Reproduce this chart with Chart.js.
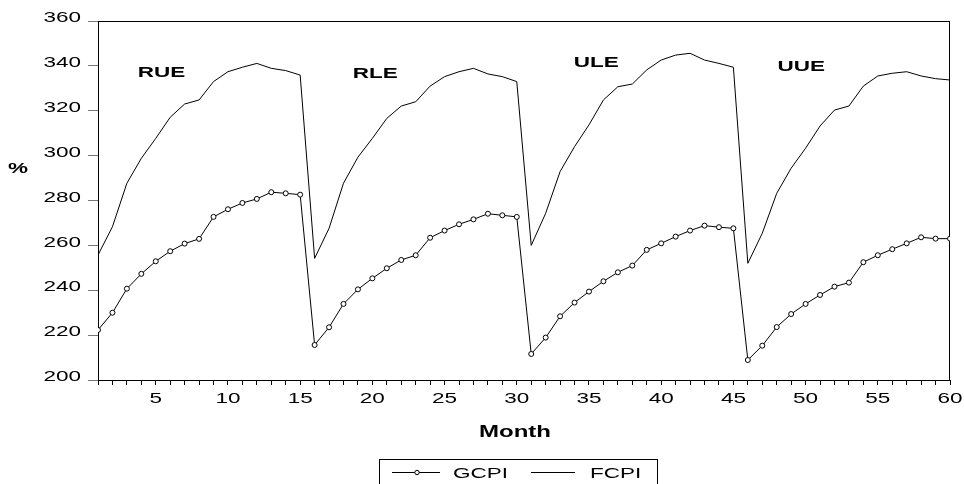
<!DOCTYPE html>
<html>
<head>
<meta charset="utf-8">
<script src="https://cdn.jsdelivr.net/npm/chart.js@4/dist/chart.umd.min.js"></script>
<style>
  html, body { margin: 0; padding: 0; background: #fff; }
  #wrap { position: relative; width: 964px; height: 484px; }
</style>
</head>
<body>
<div id="wrap"><canvas id="cpi_chart"></canvas></div>
<script>
(function () {
  'use strict';

  // months 1..60
  const months = [
    1, 2, 3, 4, 5, 6, 7, 8, 9, 10, 11, 12, 13, 14, 15,
    16, 17, 18, 19, 20, 21, 22, 23, 24, 25, 26, 27, 28, 29, 30,
    31, 32, 33, 34, 35, 36, 37, 38, 39, 40, 41, 42, 43, 44, 45,
    46, 47, 48, 49, 50, 51, 52, 53, 54, 55, 56, 57, 58, 59, 60,
  ];

  const gcpi = [
    222.3, 230.0, 240.7, 247.3, 252.9, 257.4, 260.8, 262.9, 272.7, 276.1, 278.9, 280.7, 283.7, 283.2, 282.6,
    215.6, 223.5, 233.9, 240.4, 245.3, 249.8, 253.5, 255.6, 263.4, 266.6, 269.4, 271.6, 274.1, 273.4, 272.7,
    211.6, 218.9, 228.4, 234.5, 239.4, 244.0, 248.0, 251.0, 258.0, 260.9, 263.9, 266.6, 268.8, 268.1, 267.6,
    208.9, 215.3, 223.6, 229.4, 233.9, 237.9, 241.6, 243.4, 252.5, 255.6, 258.3, 260.9, 263.6, 263.0, 263.0,
  ];

  const fcpi = [
    255.7, 268.3, 287.7, 298.8, 307.7, 317.1, 323.0, 324.8, 333.0, 337.4, 339.4, 341.1, 338.9, 337.9, 335.9,
    254.2, 267.6, 287.7, 299.3, 307.7, 316.6, 322.1, 324.0, 331.0, 335.2, 337.4, 338.9, 336.4, 335.2, 333.0,
    260.0, 274.3, 292.9, 304.0, 313.7, 324.8, 330.7, 331.9, 338.2, 342.6, 344.8, 345.6, 342.6, 341.1, 339.4,
    252.0, 265.4, 283.2, 294.4, 303.3, 313.2, 320.3, 322.1, 331.0, 335.5, 336.7, 337.4, 335.5, 334.3, 333.7,
  ];

  // tick labels
  const xTickLabels = [5, 10, 15, 20, 25, 30, 35, 40, 45, 50, 55, 60];
  const yTickLabels = [200, 220, 240, 260, 280, 300, 320, 340, 360];

  // regime names, anchored at (month, %)
  const regimes = ['RUE', 'RLE', 'ULE', 'UUE'];
  const regimeAt = [[5.4, 336.8], [20.2, 336.3], [35.5, 341.2], [49.7, 339.6]];

  const FONT = "'Liberation Sans', Arial, sans-serif";
  const SX = 1.5; // the original image is stretched sideways, text too

  const canvas = document.getElementById('cpi_chart');
  const ctx = canvas.getContext('2d');
  const rawFill = ctx.fillText;
  ctx.fillText = function (text, x, y) {
    this.save();
    this.translate(x, y);
    this.scale(SX, 1);
    rawFill.call(this, text, 0, 0);
    this.restore();
  };

  const toPoints = (vals) => months.map((m, i) => ({ x: m, y: vals[i] }));

  const extras = {
    id: 'extras',
    beforeDatasetsDraw(chart) { // frame round plot area
      const a = chart.chartArea;
      const c = chart.ctx;
      c.save();
      c.strokeStyle = '#000';
      c.lineWidth = 1;
      c.strokeRect(Math.round(a.left) + 0.5, Math.round(a.top) + 0.5,
        Math.round(a.right - a.left) - 1, Math.round(a.bottom - a.top));
      c.restore();
    },
    afterDraw(chart) {
      const c = chart.ctx;
      const { x, y } = chart.scales;
      c.save();
      c.fillStyle = '#000';
      c.textBaseline = 'middle';
      c.textAlign = 'center';

      c.font = 'bold 15px ' + FONT;
      regimes.forEach((name, i) => {
        c.fillText(name, x.getPixelForValue(regimeAt[i][0]), y.getPixelForValue(regimeAt[i][1]));
      });
      c.fillText('%', 18, 169);

      c.font = 'bold 16px ' + FONT;
      c.fillText('Month', 515, 433);

      // legend
      c.strokeStyle = '#000';
      c.lineWidth = 1;
      c.strokeRect(379.5, 459.5, 278, 40);
      c.beginPath();
      c.moveTo(392, 472.5); c.lineTo(440, 472.5);
      c.moveTo(531, 472.5); c.lineTo(575, 472.5);
      c.stroke();
      c.beginPath();
      c.arc(417, 472.5, 2.2, 0, Math.PI * 2);
      c.fillStyle = '#fff';
      c.fill();
      c.stroke();
      c.fillStyle = '#000';
      c.textAlign = 'left';
      c.font = '15px ' + FONT;
      c.fillText('GCPI', 453, 474);
      c.fillText('FCPI', 590, 474);
      c.restore();
    },
  };

  new Chart(ctx, {
    type: 'line',
    data: {
      datasets: [
        {
          label: 'GCPI',
          data: toPoints(gcpi),
          borderColor: '#000',
          borderWidth: 1,
          pointRadius: 2.5,
          pointBorderWidth: 1,
          pointBackgroundColor: '#fff',
          pointBorderColor: '#000',
          tension: 0,
        },
        {
          label: 'FCPI',
          data: toPoints(fcpi),
          borderColor: '#000',
          borderWidth: 1,
          pointRadius: 0,
          tension: 0,
        },
      ],
    },
    options: {
      responsive: true,
      maintainAspectRatio: false,
      animation: false,
      events: [],
      layout: { padding: { top: 21, right: 14, bottom: 0, left: 0 } },
      plugins: {
        legend: { display: false },
        tooltip: { enabled: false },
      },
      scales: {
        x: {
          type: 'linear',
          min: 1,
          max: 60,
          afterFit: (scale) => { scale.height = 104; },
          border: { color: '#000', width: 1 },
          grid: { drawOnChartArea: false, tickLength: 5, tickColor: '#000' },
          ticks: {
            stepSize: 1,
            autoSkip: false,
            maxRotation: 0,
            minRotation: 0,
            padding: 5,
            color: '#000',
            font: { family: FONT, size: 15 },
            callback: (v) => (xTickLabels.includes(v) ? String(v) : ''),
          },
        },
        y: {
          min: 200,
          max: 360,
          afterFit: (scale) => { scale.width = 98; },
          border: { color: '#000', width: 1 },
          grid: { drawOnChartArea: false, tickLength: 10, tickColor: '#777' },
          ticks: {
            stepSize: 20,
            padding: 7,
            labelOffset: -3,
            color: '#000',
            font: { family: FONT, size: 15 },
            callback: (v) => (yTickLabels.includes(v) ? String(v) : ''),
          },
        },
      },
    },
    plugins: [extras],
  });
})();
</script>
</body>
</html>
